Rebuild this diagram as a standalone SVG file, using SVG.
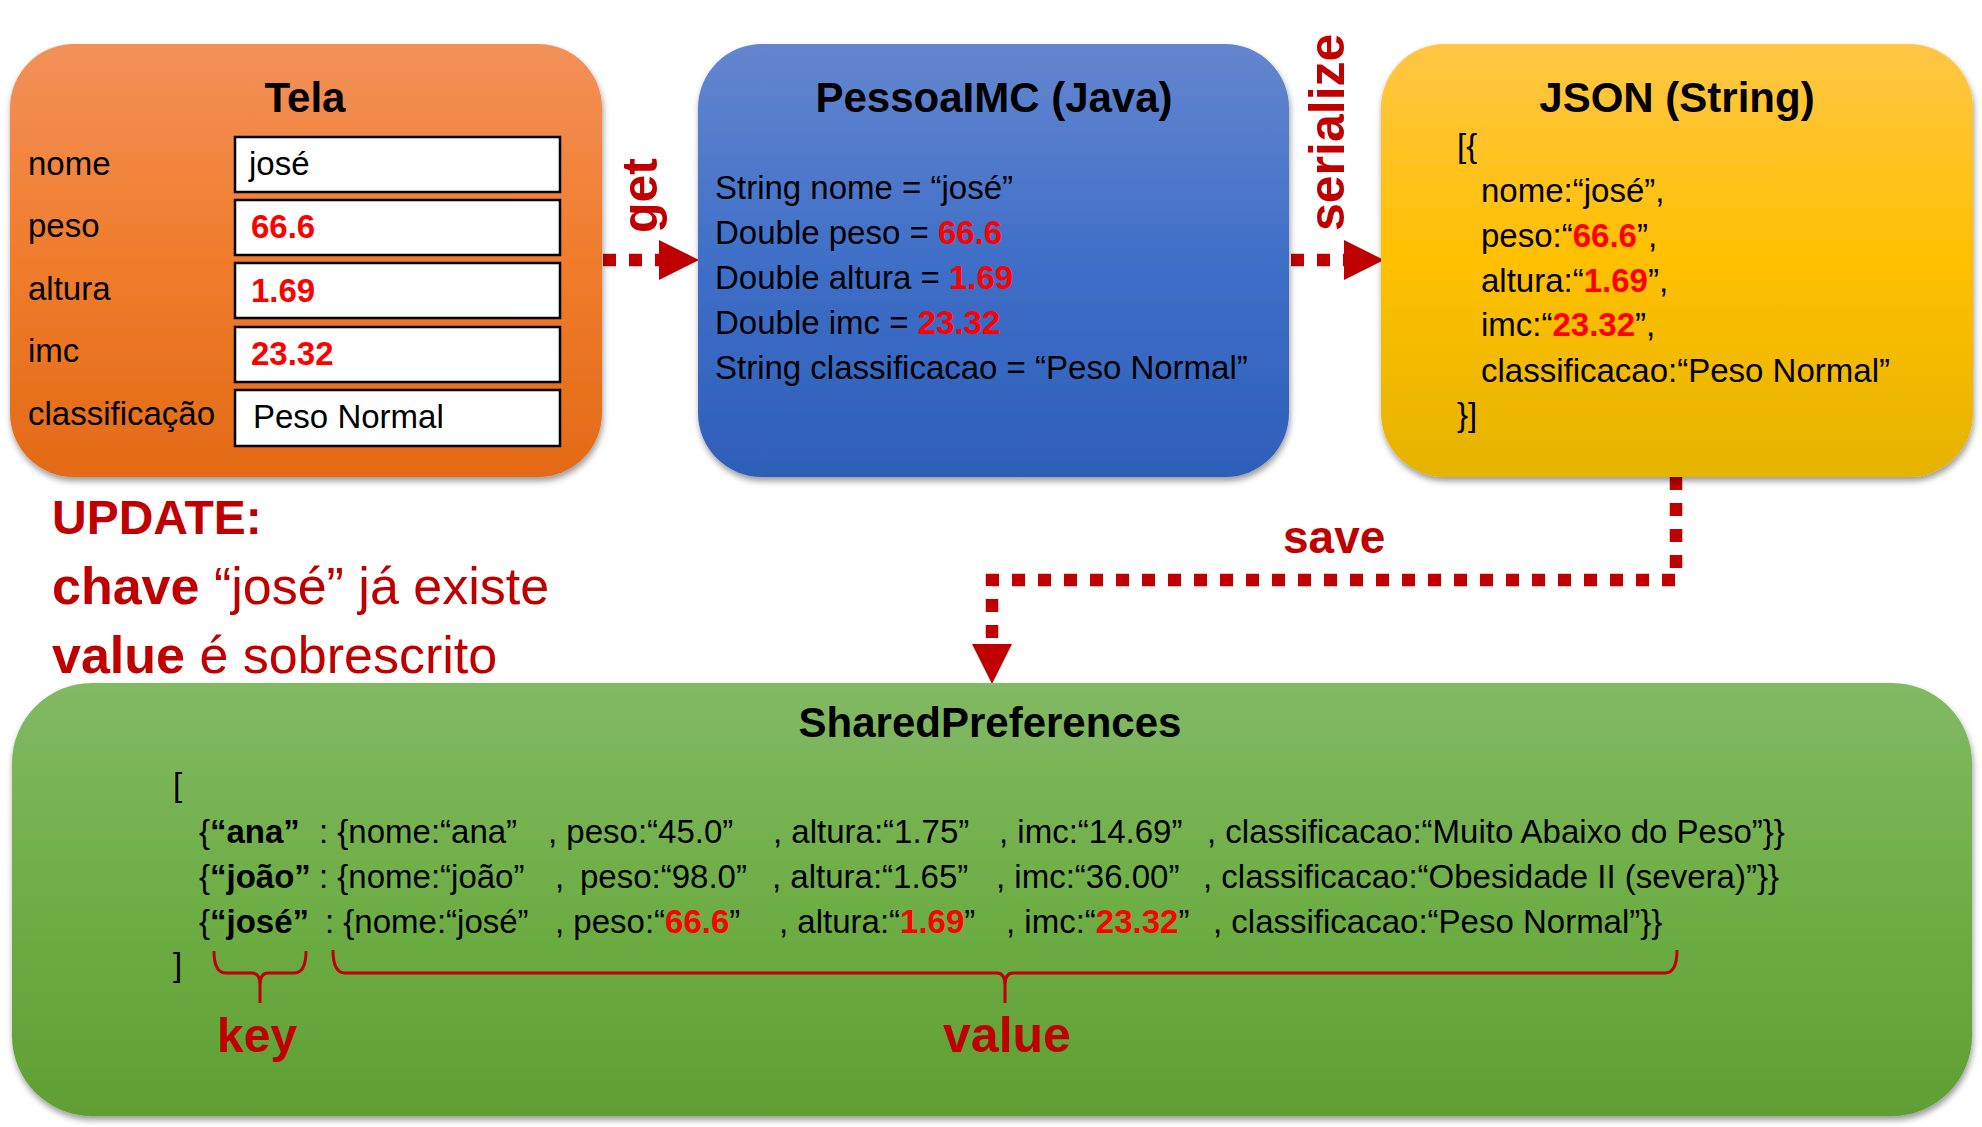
<svg xmlns="http://www.w3.org/2000/svg" width="1982" height="1127" viewBox="0 0 1982 1127">
<style>
.t{font-family:"Liberation Sans",Arial,sans-serif;font-size:33px;fill:#000}
.ti{font-weight:bold;font-size:42px;text-anchor:middle}
.r{fill:#FF0000;font-weight:bold}
.dr{fill:#C00000}
.b{font-weight:bold}
.fld{fill:#FFFFFF;stroke:#000;stroke-width:2.5}
.conn{fill:none;stroke:#C00000;stroke-width:12.5;stroke-dasharray:13 13}
.brace{fill:none;stroke:#C00000;stroke-width:3}
</style>
<defs>
<linearGradient id="gOrange" x1="0" y1="0" x2="0" y2="1"><stop offset="0" stop-color="#F39159"/><stop offset="0.5" stop-color="#F07C2C"/><stop offset="1" stop-color="#E36A16"/></linearGradient>
<linearGradient id="gBlue" x1="0" y1="0" x2="0" y2="1"><stop offset="0" stop-color="#6486CF"/><stop offset="0.5" stop-color="#3F6FC8"/><stop offset="1" stop-color="#2E5FB8"/></linearGradient>
<linearGradient id="gYellow" x1="0" y1="0" x2="0" y2="1"><stop offset="0" stop-color="#FFC646"/><stop offset="0.5" stop-color="#FFC000"/><stop offset="1" stop-color="#E5B300"/></linearGradient>
<linearGradient id="gGreen" x1="0" y1="0" x2="0" y2="1"><stop offset="0" stop-color="#82B964"/><stop offset="0.5" stop-color="#6EAE45"/><stop offset="1" stop-color="#5F9F33"/></linearGradient>
<filter id="sh" x="-5%" y="-5%" width="110%" height="115%"><feDropShadow dx="1" dy="4" stdDeviation="3" flood-color="#000" flood-opacity="0.4"/></filter>
<marker id="arrow" markerUnits="userSpaceOnUse" markerWidth="40" markerHeight="40" viewBox="0 0 38 38" refX="0" refY="19" orient="auto"><path d="M0,0 L38,19 L0,38 z" fill="#C00000"/></marker>
</defs>

<g id="connectors">
<path class="conn" d="M603,260 H659" marker-end="url(#arrow)"/>
<path class="conn" d="M1291,260 H1344" marker-end="url(#arrow)"/>
<path class="conn" d="M1676,477 V580 H992 V644" marker-end="url(#arrow)"/>
<text class="t b dr" style="font-size:50px" transform="translate(657,233) rotate(-90)">get</text>
<text class="t b dr" style="font-size:50px" transform="translate(1344,231) rotate(-90)">serialize</text>
<text class="t b dr" style="font-size:46px" x="1283" y="553">save</text>
</g>

<g id="tela">
<rect x="10" y="44" width="592" height="433" rx="64" fill="url(#gOrange)" filter="url(#sh)"/>
<text class="t ti" x="305" y="112">Tela</text>
<text class="t" x="28" y="175">nome</text>
<text class="t" x="28" y="237">peso</text>
<text class="t" x="28" y="300">altura</text>
<text class="t" x="28" y="362">imc</text>
<text class="t" x="28" y="425">classificação</text>
<rect class="fld" x="235" y="137" width="325" height="55"/>
<rect class="fld" x="235" y="200" width="325" height="55"/>
<rect class="fld" x="235" y="263" width="325" height="55"/>
<rect class="fld" x="235" y="327" width="325" height="55"/>
<rect class="fld" x="235" y="390" width="325" height="56"/>
<text class="t" x="249" y="175">josé</text>
<text class="t r" x="251" y="238">66.6</text>
<text class="t r" x="251" y="302">1.69</text>
<text class="t r" x="251" y="365">23.32</text>
<text class="t" x="253" y="428">Peso Normal</text>
</g>

<g id="pessoaimc">
<rect x="698" y="44" width="591" height="433" rx="64" fill="url(#gBlue)" filter="url(#sh)"/>
<text class="t ti" x="994" y="112">PessoaIMC (Java)</text>
<text class="t" x="715" y="199">String nome = “josé”</text>
<text class="t" x="715" y="244">Double peso = <tspan class="r">66.6</tspan></text>
<text class="t" x="715" y="289">Double altura = <tspan class="r">1.69</tspan></text>
<text class="t" x="715" y="334">Double imc = <tspan class="r">23.32</tspan></text>
<text class="t" x="715" y="379">String classificacao = “Peso Normal”</text>
</g>

<g id="json">
<rect x="1381" y="44" width="592" height="433" rx="64" fill="url(#gYellow)" filter="url(#sh)"/>
<text class="t ti" x="1677" y="112">JSON (String)</text>
<text class="t" x="1457" y="157">[{</text>
<text class="t" x="1481" y="202">nome:“josé”,</text>
<text class="t" x="1481" y="247">peso:“<tspan class="r">66.6</tspan>”,</text>
<text class="t" x="1481" y="292">altura:“<tspan class="r">1.69</tspan>”,</text>
<text class="t" x="1481" y="336">imc:“<tspan class="r">23.32</tspan>”,</text>
<text class="t" x="1481" y="382">classificacao:“Peso Normal”</text>
<text class="t" x="1457" y="426">}]</text>
</g>

<g id="update-note">
<text class="t b dr" style="font-size:48px" x="52" y="534">UPDATE:</text>
<text class="t dr" style="font-size:52px" x="52" y="604"><tspan class="b">chave</tspan> “josé” já existe</text>
<text class="t dr" style="font-size:52px" x="52" y="673"><tspan class="b">value</tspan> é sobrescrito</text>
</g>

<g id="sharedpreferences">
<rect x="12" y="683" width="1960" height="433" rx="80" fill="url(#gGreen)" filter="url(#sh)"/>
<text class="t ti" x="990" y="737">SharedPreferences</text>
<text class="t" x="173" y="796">[</text>
<text class="t" y="843"><tspan x="199">{</tspan><tspan x="210" class="b">“ana”</tspan><tspan x="319">: {nome:“ana”</tspan><tspan x="548">, peso:“45.0”</tspan><tspan x="773">, altura:“1.75”</tspan><tspan x="999">, imc:“14.69”</tspan><tspan x="1207">, classificacao:“Muito Abaixo do Peso”}}</tspan></text>
<text class="t" y="888"><tspan x="199">{</tspan><tspan x="210" class="b">“joão”</tspan><tspan x="319">: {nome:“joão”</tspan><tspan x="555">,</tspan><tspan x="580">peso:“98.0”</tspan><tspan x="772">, altura:“1.65”</tspan><tspan x="996">, imc:“36.00”</tspan><tspan x="1203">, classificacao:“Obesidade II (severa)”}}</tspan></text>
<text class="t" y="933"><tspan x="199">{</tspan><tspan x="210" class="b">“josé”</tspan><tspan x="325">: {nome:“josé”</tspan><tspan x="555">, peso:“</tspan><tspan class="r">66.6</tspan><tspan>”</tspan><tspan x="779">, altura:“</tspan><tspan class="r">1.69</tspan><tspan>”</tspan><tspan x="1006">, imc:“</tspan><tspan class="r">23.32</tspan><tspan>”</tspan><tspan x="1213">, classificacao:“Peso Normal”}}</tspan></text>
<text class="t" x="173" y="976">]</text>
<path class="brace" d="M214,951 Q214,973 226,973 H252 Q260,973 260,985 V1003 M260,985 Q260,973 268,973 H294 Q306,973 306,951"/>
<path class="brace" d="M333,950 Q333,973 345,973 H997 Q1005,973 1005,985 V1003 M1005,985 Q1005,973 1013,973 H1665 Q1677,973 1677,950"/>
<text class="t b dr" style="font-size:48px" x="217" y="1052">key</text>
<text class="t b dr" style="font-size:50px;text-anchor:middle" x="1007" y="1052">value</text>
</g>
</svg>
